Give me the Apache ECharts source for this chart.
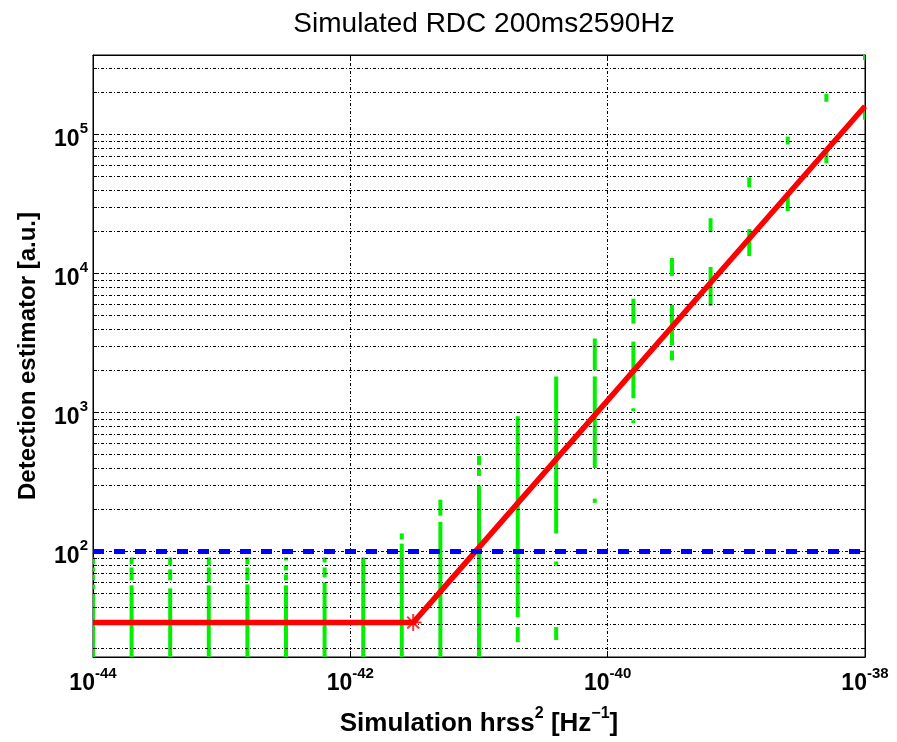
<!DOCTYPE html>
<html><head><meta charset="utf-8">
<script src="https://cdn.jsdelivr.net/npm/echarts@6/dist/echarts.min.js"></script>
<style>html,body{margin:0;padding:0;background:#fff}#c{width:897px;height:742px}</style>
</head><body><div id="c"></div>
<script>
// ---------- data ----------
const chartTitle = 'Simulated RDC 200ms2590Hz';
const yAxisTitle = 'Detection estimator [a.u.]';
// simulated hrss^2 injection values (x positions of green strips), Hz^-1
const hrss2 = [1.00e-44, 1.995e-44, 3.98e-44, 7.94e-44, 1.585e-43, 3.16e-43, 6.31e-43,
  1.26e-42, 2.51e-42, 5.01e-42, 1.00e-41, 2.00e-41, 3.98e-41, 7.94e-41, 1.585e-40,
  3.16e-40, 6.31e-40, 1.26e-39, 2.51e-39, 5.01e-39, 1.00e-38];
// detected estimator ranges per strip: [strip index, low, high]
const stripSegments = [
  [0, 80.7, 90.6], [0, 71.9, 76.8], [0, 62.0, 68.4], [0, 53.5, 58.0], [0, 17.4, 50.0],
  [1, 80.7, 90.6], [1, 62.0, 76.8], [1, 17.4, 57.1],
  [2, 79.4, 90.6], [2, 62.0, 74.3], [2, 17.4, 54.3],
  [3, 79.4, 90.6], [3, 60.0, 76.8], [3, 17.4, 57.1],
  [4, 80.7, 90.6], [4, 62.0, 76.8], [4, 17.4, 58.0],
  [5, 86.2, 90.6], [5, 73.1, 79.4], [5, 62.0, 68.4], [5, 17.4, 57.1],
  [6, 83.4, 90.6], [6, 65.1, 76.8], [6, 17.4, 60.0],
  [7, 17.4, 90.6],
  [8, 122, 135], [8, 17.4, 114],
  [9, 181, 236], [9, 17.4, 164],
  [10, 420, 487], [10, 350, 393], [10, 17.4, 297],
  [11, 33.7, 941], [11, 22.3, 28.6],
  [12, 135, 1820], [12, 79.4, 84.8], [12, 23.1, 28.6],
  [13, 2010, 3410], [13, 399, 1820], [13, 224, 240],
  [14, 4360, 6590], [14, 1267, 3240], [14, 1022, 1074], [14, 838, 881],
  [15, 9620, 12950], [15, 3030, 5960], [15, 2370, 2790],
  [16, 19900, 25000], [16, 5870, 11160],
  [17, 41700, 49200], [17, 13380, 20900],
  [18, 84800, 96700], [18, 28100, 38500],
  [19, 172200, 196600], [19, 62000, 78100],
  [20, 344000, 386000], [20, 128000, 151000]
];
// fitted curve (red) and its knee point
const fitX = [1.0e-44, 3.08e-42, 1.0e-38];
const fitY = [30.8, 30.8, 1.6e5];
const kneeX = [3.08e-42];
const kneeY = [30.8];
// threshold (blue dashed)
const thresholdX = [1.0e-44, 1.0e-38];
const thresholdY = [100, 100];
// axis ranges
const xRange = [1e-44, 1e-38];
const yRange = [17.42, 3.737e5];
// minor y grid values
const yMinorGrid = [20, 30, 40, 50, 60, 70, 80, 90, 200, 300, 400, 500, 600, 700, 800, 900,
  2000, 3000, 4000, 5000, 6000, 7000, 8000, 9000, 20000, 30000, 40000, 50000, 60000, 70000,
  80000, 90000, 200000, 300000];

// ---------- chart ----------
// x values are plotted in units of 1e-44 Hz^-1 (ECharts rounds tiny numbers to 0)
const X_UNIT_EXP = -44;
const X_UNIT = 1e-44;
const sx = v => v / X_UNIT;
const TICK_SPAN = 1.075; // minor tick length on the log x scale (~4 px)

const FONT = '"Liberation Sans", Arial, Helvetica, sans-serif';
const GRID_STYLE = {color: '#000', width: 1, type: [3, 2, 1, 2]};
const chart = echarts.init(document.getElementById('c'), null, {renderer: 'canvas'});

function powLabel(v, shift) {
  const e = Math.log10(v);
  const r = Math.round(e);
  if (Math.abs(e - r) > 1e-6) return '';
  const ex = r + shift;
  return '{b|10}{s|' + (ex < 0 ? '-' + (-ex) : ex) + '}';
}
const labelRich = {
  b: {fontSize: 23, fontWeight: 'bold', fontFamily: FONT, color: '#000', padding: [10, 0, 0, 0], lineHeight: 26},
  s: {fontSize: 15, fontWeight: 'bold', fontFamily: FONT, color: '#000', verticalAlign: 'top', lineHeight: 16}
};

const greenData = stripSegments.map(s => [sx(hrss2[s[0]]), s[1], s[2]]);
const xLo = sx(xRange[0]), xHi = sx(xRange[1]);
const minorTickLines = [];
yMinorGrid.forEach(v => {
  minorTickLines.push([{coord: [xLo, v]}, {coord: [xLo * TICK_SPAN, v]}]);
  minorTickLines.push([{coord: [xHi / TICK_SPAN, v]}, {coord: [xHi, v]}]);
});

function xAxisBase() {
  return {
    type: 'log', logBase: 10, min: xLo, max: xHi, interval: 2, splitNumber: 3,
    axisLine: {show: true, lineStyle: {color: '#000', width: 1}},
    axisTick: {show: true, inside: true, length: 6, lineStyle: {color: '#000'}}
  };
}

chart.setOption({
  animation: false,
  backgroundColor: '#fff',
  title: {
    text: chartTitle, left: 479, top: 5, textAlign: 'center',
    textStyle: {fontFamily: FONT, fontSize: 28, fontWeight: 'normal', color: '#000'}
  },
  grid: {left: 93, right: 32, top: 55, bottom: 82, show: true, borderColor: '#000', borderWidth: 1, containLabel: false},
  xAxis: [Object.assign(xAxisBase(), {
    position: 'bottom',
    axisLabel: {formatter: v => powLabel(v, X_UNIT_EXP), margin: 9, rich: labelRich},
    splitLine: {show: true, lineStyle: GRID_STYLE},
    name: '{t|Simulation hrss}{u|2}{t| [Hz}{u|\u22121}{t|]}',
    nameLocation: 'middle', nameGap: 49,
    nameTextStyle: {rich: {
      t: {fontFamily: FONT, fontSize: 26, fontWeight: 'bold', color: '#000', padding: [8, 0, 0, 0], lineHeight: 28},
      u: {fontFamily: FONT, fontSize: 16, fontWeight: 'bold', color: '#000', verticalAlign: 'top', lineHeight: 16}
    }}
  }), Object.assign(xAxisBase(), {
    position: 'top', axisLabel: {show: false}, splitLine: {show: false}
  })],
  yAxis: [{
    type: 'log', logBase: 10, min: yRange[0], max: yRange[1],
    position: 'left',
    axisLine: {show: true, lineStyle: {color: '#000', width: 1}},
    axisTick: {show: true, inside: true, length: 6, lineStyle: {color: '#000'}},
    axisLabel: {formatter: v => powLabel(v, 0), margin: 5, rich: labelRich},
    splitLine: {show: true, lineStyle: GRID_STYLE},
    name: yAxisTitle, nameLocation: 'middle', nameGap: 53, nameRotate: 90,
    nameTextStyle: {fontFamily: FONT, fontSize: 24, fontWeight: 'bold', color: '#000'}
  }, {
    type: 'log', logBase: 10, min: yRange[0], max: yRange[1],
    position: 'right',
    axisLine: {show: true, lineStyle: {color: '#000', width: 1}},
    axisTick: {show: true, inside: true, length: 6, lineStyle: {color: '#000'}},
    axisLabel: {show: false}, splitLine: {show: false}
  }],
  series: [
    { // minor grid lines and minor ticks
      type: 'line', data: [[xLo, thresholdY[0]]], showSymbol: false, silent: true, z: 1,
      lineStyle: {opacity: 0},
      markLine: {
        silent: true, symbol: 'none', label: {show: false}, animation: false,
        lineStyle: GRID_STYLE, emphasis: {disabled: true},
        data: yMinorGrid.map(v => ({yAxis: v})).concat(minorTickLines.map(p => [
          Object.assign({lineStyle: {type: 'solid', color: '#000', width: 1}}, p[0]), p[1]]))
      }
    },
    { // green strips
      type: 'custom', coordinateSystem: 'cartesian2d', z: 3, clip: true,
      encode: {x: 0, y: [1, 2]},
      data: greenData,
      renderItem: function (params, api) {
        const x = api.value(0);
        const a = api.coord([x, api.value(1)]);
        const b = api.coord([x, api.value(2)]);
        const cs = params.coordSys;
        const top = Math.max(b[1], cs.y);
        const bot = Math.min(a[1], cs.y + cs.height);
        const left = Math.max(a[0] - 2, cs.x);
        const right = Math.min(a[0] + 2, cs.x + cs.width);
        if (bot <= top || right <= left) return null;
        return {type: 'rect', shape: {x: left, y: top, width: right - left, height: bot - top},
          style: {fill: '#00f000'}};
      }
    },
    { // red fit
      type: 'line', z: 5, data: fitX.map((x, i) => [sx(x), fitY[i]]), showSymbol: false,
      lineStyle: {color: '#ff0000', width: 5.5}, silent: true
    },
    { // knee marker
      type: 'scatter', z: 6, data: kneeX.map((x, i) => [sx(x), kneeY[i]]),
      symbol: 'path://M0,-6L0,6M-6,0L6,0M-4.2,-4.2L4.2,4.2M-4.2,4.2L4.2,-4.2',
      symbolSize: 17,
      itemStyle: {color: 'rgba(0,0,0,0)', borderColor: '#ff0000', borderWidth: 2}, silent: true
    },
    { // blue threshold
      type: 'line', z: 7, data: thresholdX.map((x, i) => [sx(x), thresholdY[i]]), showSymbol: false,
      lineStyle: {color: '#0000ff', width: 5, type: [11, 10]}, silent: true
    }
  ]
});
</script></body></html>
